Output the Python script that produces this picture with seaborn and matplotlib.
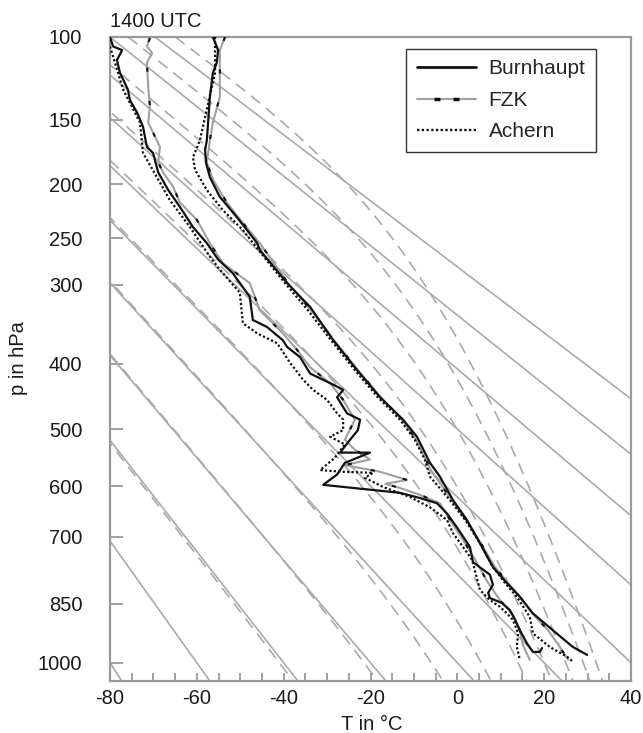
import numpy as np
import pandas as pd
import matplotlib
matplotlib.use("Agg")
import matplotlib.pyplot as plt
from matplotlib.lines import Line2D
from matplotlib.legend_handler import HandlerLine2D, HandlerTuple
from matplotlib.ticker import MultipleLocator, NullLocator
import seaborn as sns

KAPPA = 0.286

# diagram background: dry adiabats (theta in °C) and pseudo-adiabats (T at 1000 hPa)
dry_theta = [-80, -60, -40, -20, 0, 20, 40, 60, 80, 100, 120]
moist_t1000 = [-41, -21.5, -6, 5.5, 14, 20, 25, 29, 32]

p_ticks = [100, 150, 200, 250, 300, 400, 500, 600, 700, 850, 1000]
t_ticks = [-80, -60, -40, -20, 0, 20, 40]

# soundings (p in hPa, T in °C)
burn_temp_p = [100, 107, 114, 120, 135, 152, 165, 172, 182, 194, 211, 229.5, 255, 262, 298, 326, 368,
               409, 449, 484, 512, 557, 582, 626, 665, 713, 765, 801, 833, 873, 915, 958, 979]
burn_temp = [-56.3, -55.1, -55.4, -56.3, -57.0, -57.4, -57.7, -58.1, -57.9, -57.0, -54.7, -50.8, -46.1,
             -45.5, -39.2, -33.9, -28.6, -23.1, -17.8, -12.5, -9.3, -6.3, -4.0, -1.0, 2.2, 5.2, 8.2,
             11.4, 14.4, 17.4, 22.0, 26.6, 29.9]
burn_dew_p = [100, 105, 107, 112.5, 120, 130, 137, 145, 155, 170, 174.5, 190, 205, 220, 239, 255, 272,
              287, 314, 342, 351, 368, 377, 391, 414, 423, 433, 438, 449, 474, 484, 501, 517, 539, 539,
              557, 578, 597, 612, 622, 632, 652, 680, 721, 754, 782, 805, 824, 836, 848, 865, 889, 915,
              948, 971, 971, 961]
burn_dew = [-80, -79.3, -77.2, -78.4, -77.7, -75.9, -75.4, -73.8, -72.4, -71.5, -70.1, -68.9, -66.6,
            -63.9, -60.9, -57.7, -55.1, -51.7, -47.8, -47.1, -43.8, -40.2, -39.2, -36.2, -33.9, -30.9,
            -27.7, -26.3, -27.7, -25.4, -22.4, -22.9, -24.7, -27.0, -20.1, -25.9, -27.7, -30.9, -13.2,
            -8.6, -4.7, -2.4, -0.1, 2.9, 3.6, 7.5, 8.2, 7.1, 7.5, 10.3, 12.1, 13.3, 14.4, 16.0, 17.4,
            19.0, 19.5]

fzk_temp_p = [100, 107, 135, 152, 165, 182, 196, 216, 235, 255, 298, 330, 368, 409, 449, 484, 517,
              570, 626, 665, 713, 765, 801, 833, 873, 915, 958, 992]
fzk_temp = [-53.5, -54.7, -54.7, -56.3, -57.0, -57.7, -56.3, -53.1, -49.4, -45.5, -39.0, -33.7, -28.4,
            -22.9, -17.6, -12.8, -9.5, -6.1, -1.3, 2.0, 5.4, 8.7, 11.7, 14.4, 17.2, 20.9, 23.6, 25.5]
fzk_dew_p = [100.5, 105, 108.5, 114, 128.5, 141, 152, 170, 182, 190, 202, 216, 232, 255, 276, 298, 330,
             359, 381, 405, 428, 453, 484, 517, 534, 551, 561, 573, 588, 595, 603, 616, 632, 665, 706,
             749, 801, 841, 877, 915, 953, 992]
fzk_dew = [-70.8, -71.5, -70.3, -71.5, -71.2, -70.8, -71.2, -68.5, -68.9, -67.8, -65.5, -63.9, -60.0,
           -57.0, -54.0, -47.8, -45.5, -40.2, -36.9, -33.9, -29.3, -26.3, -23.6, -25.9, -23.6, -20.1,
           -25.9, -17.8, -11.6, -16.6, -13.2, -8.6, -4.0, -1.7, 1.3, 4.1, 7.1, 9.8, 12.8, 14.4, 15.1, 16.7]

ach_temp_p = [100, 120, 143, 165, 178, 188, 205, 223, 242, 262, 298, 330, 368, 409, 449, 484, 517, 551,
              582, 626, 665, 713, 765, 801, 833, 882, 923, 958, 984, 997]
ach_temp = [-55.8, -55.8, -57.7, -59.3, -60.9, -60.4, -57.7, -54.0, -49.4, -45.8, -39.7, -34.4, -29.1,
            -23.6, -18.3, -13.2, -9.8, -7.5, -6.3, -1.7, 1.8, 5.2, 8.2, 11.0, 13.7, 16.7, 17.4, 21.3,
            25.3, 26.6]
ach_dew_p = [105, 130, 152, 174.5, 194, 214, 239, 269, 283, 309, 346, 359, 372, 399, 423, 438, 453, 474,
             484, 501, 512, 525, 548, 570, 573, 575, 584, 601, 620, 640, 665, 692, 721, 749, 817, 841,
             857, 873, 889, 923, 958, 992]
ach_dew = [-80, -77.0, -73.1, -72.4, -69.2, -66.2, -61.6, -57.0, -54.7, -50.1, -49.4, -46.1, -41.5, -38.5,
           -35.5, -33.2, -30.0, -27.7, -26.3, -26.3, -29.3, -25.9, -28.2, -31.6, -26.3, -19.4, -21.3,
           -17.1, -10.9, -6.3, -2.4, -1.0, 1.3, 3.4, 5.2, 7.5, 9.8, 11.4, 12.8, 14.0, 13.7, 14.4]

GRID = "#aaaaaa"
SPINE = "#999999"


def moist_rate(p, tk):
    tc = tk - 273.15
    es = 6.112 * np.exp(17.67 * tc / (tc + 243.5))
    rs = 0.622 * es / (p - es)
    lv = 2.501e6
    return (287.04 * tk + lv * rs) / (1005.7 + lv ** 2 * rs * 0.622 / (287.04 * tk ** 2)) / p


def pseudo_adiabat(t1000):
    # integrate from 1000 hPa up to 100 hPa and down to 1050 hPa (RK2)
    out = {}
    for stop, dp in ((100.0, -2.0), (1050.0, 2.0)):
        p, tk = 1000.0, t1000 + 273.15
        ps, ts = [p], [tk]
        while (p - stop) * np.sign(dp) < 0:
            k1 = moist_rate(p, tk)
            k2 = moist_rate(p + dp, tk + dp * k1)
            tk += 0.5 * dp * (k1 + k2)
            p += dp
            ps.append(p)
            ts.append(tk)
        out[dp] = (ps, ts)
    ps = out[-2.0][0][::-1] + out[2.0][0][1:]
    ts = out[-2.0][1][::-1] + out[2.0][1][1:]
    return np.array(ps), np.array(ts) - 273.15


sns.set_style("white")
plt.rcParams["font.family"] = ["Liberation Sans", "DejaVu Sans"]

fig = plt.figure(figsize=(6.43, 7.33), dpi=100)
ax = fig.add_axes([110 / 643, 1 - 681 / 733, 521 / 643, 644 / 733])

ax.set_yscale("function", functions=(lambda p: np.power(np.clip(p, 1e-6, None), KAPPA),
                                     lambda f: np.power(np.clip(f, 1e-6, None), 1 / KAPPA)))
ax.set_xlim(-80, 40)
ax.set_ylim(1050, 100)

levels = np.linspace(100, 1050, 200)
for th in dry_theta:
    t = (th + 273.15) * (levels / 1000.0) ** KAPPA - 273.15
    ax.plot(t, levels, color=GRID, lw=1.2, zorder=1)

for t0 in moist_t1000:
    mp, mt = pseudo_adiabat(t0)
    ax.plot(mt, mp, color=GRID, lw=1.2, dashes=(7, 4.5), zorder=1)

black = "#111111"
for pp, tt in ((burn_temp_p, burn_temp), (burn_dew_p, burn_dew)):
    df = pd.DataFrame({"T": tt, "p": pp})
    sns.lineplot(data=df, x="T", y="p", sort=False, estimator=None, color=black, lw=1.6, ax=ax, zorder=4)

for pp, tt in ((fzk_temp_p, fzk_temp), (fzk_dew_p, fzk_dew)):
    df = pd.DataFrame({"T": tt, "p": pp})
    sns.lineplot(data=df, x="T", y="p", sort=False, estimator=None, color="#a0a0a0", lw=1.5, ax=ax, zorder=3)
    sns.lineplot(data=df, x="T", y="p", sort=False, estimator=None, color=black, lw=1.5,
                 dashes=False, linestyle=(0, (2, 14)), ax=ax, zorder=3)

for pp, tt in ((ach_temp_p, ach_temp), (ach_dew_p, ach_dew)):
    df = pd.DataFrame({"T": tt, "p": pp})
    sns.lineplot(data=df, x="T", y="p", sort=False, estimator=None, color=black, lw=1.6,
                 linestyle=(0, (1, 1)), ax=ax, zorder=4)

ax.set_xlabel("")
ax.set_ylabel("")
ax.set_yticks(p_ticks)
ax.set_yticklabels([str(v) for v in p_ticks])
ax.yaxis.set_minor_locator(NullLocator())
ax.set_xticks(t_ticks)
ax.set_xticklabels([str(v) for v in t_ticks])
ax.xaxis.set_minor_locator(MultipleLocator(5))

for s in ax.spines.values():
    s.set_color(SPINE)
    s.set_linewidth(1.6)
ax.tick_params(axis="y", which="major", direction="in", length=9, width=1.3, color=SPINE,
               pad=20, labelsize=14.5, labelcolor="#1a1a1a", left=True)
ax.tick_params(axis="x", which="both", direction="in", length=6, width=1.3, color=SPINE,
               pad=6, labelsize=14.5, labelcolor="#1a1a1a", bottom=True)

ax.text(0, 1 + 10 / 644, "1400 UTC", transform=ax.transAxes, ha="left", va="baseline",
        fontsize=14.5, color="#1a1a1a")
fig.text(18.5 / 643, 1 - 358 / 733, "p in hPa", rotation=90, ha="center", va="center",
         fontsize=14.5, color="#1a1a1a")
fig.text(372 / 643, 1 - 730 / 733, "T in °C", ha="center", va="baseline",
         fontsize=14.5, color="#1a1a1a")

h_burn = Line2D([], [], color=black, lw=2)
fzk_line = Line2D([], [], color="#a0a0a0", lw=1.5)
fzk_ticks = Line2D([], [], linestyle="none", marker="_", markersize=5,
                   markeredgewidth=2.5, markeredgecolor=black)
h_ach = Line2D([], [], color=black, lw=1.7, linestyle=(0, (1, 1)))
leg = ax.legend([h_burn, (fzk_line, fzk_ticks), h_ach], ["Burnhaupt", "FZK", "Achern"],
                handler_map={tuple: HandlerTuple(ndivide=1, pad=0),
                             fzk_ticks: HandlerLine2D(numpoints=2, marker_pad=0.95)},
                loc="upper right", bbox_to_anchor=((596 - 110) / 521, 1 - 12 / 644),
                borderaxespad=0, fontsize=15, handlelength=2.85, handletextpad=0.6,
                labelspacing=0.6, borderpad=0.5, fancybox=False, framealpha=1)
leg.get_frame().set_edgecolor("#333333")
leg.get_frame().set_linewidth(1.0)

fig.savefig("out.png", dpi=100)
